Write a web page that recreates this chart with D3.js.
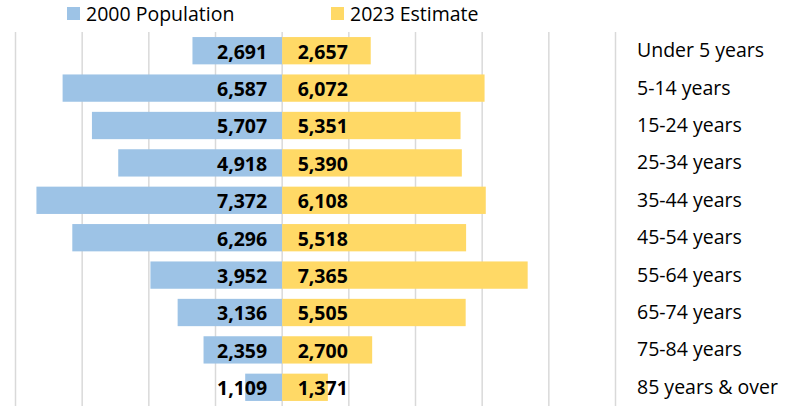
<!DOCTYPE html>
<html>
<head>
<meta charset="utf-8">
<script src="https://cdn.jsdelivr.net/npm/d3@7"></script>
<style>
  body { margin: 0; background: #fff; }
  svg { display: block; font-family: "Open Sans", sans-serif; }
</style>
</head>
<body>
<div id="chart"></div>
<script>
// data
const ageGroups = ["Under 5 years", "5-14 years", "15-24 years", "25-34 years", "35-44 years",
  "45-54 years", "55-64 years", "65-74 years", "75-84 years", "85 years & over"];
const pop2000 = [2691, 6587, 5707, 4918, 7372, 6296, 3952, 3136, 2359, 1109];
const est2023 = [2657, 6072, 5351, 5390, 6108, 5518, 7365, 5505, 2700, 1371];
const seriesNames = ["2000 Population", "2023 Estimate"];
const tickValues = [-8000, -6000, -4000, -2000, 0, 2000, 4000, 6000, 8000, 10000];

const width = 795;
const height = 406;
const colors = ["#9dc3e6", "#ffd966"];

const svg = d3.select("#chart").append("svg").attr("width", width).attr("height", height);

const x = d3.scaleLinear().domain([-8000, 10000]).range([15.5, 615.5]);
const y = d3.scaleBand().domain(ageGroups).range([32, 406]).paddingInner(0.27).paddingOuter(0.135);

// vertical gridlines
svg.append("g").selectAll("line")
  .data(tickValues)
  .join("line")
  .attr("x1", d => x(d)).attr("x2", d => x(d))
  .attr("y1", 32).attr("y2", height)
  .attr("stroke", "#d9d9d9")
  .attr("stroke-width", 1.5);

const rows = ageGroups.map((g, i) => ({ group: g, a: pop2000[i], b: est2023[i] }));

// 2000 bars go left
svg.append("g").selectAll("rect")
  .data(rows)
  .join("rect")
  .attr("x", d => x(-d.a))
  .attr("y", d => y(d.group))
  .attr("width", d => x(0) - x(-d.a))
  .attr("height", y.bandwidth())
  .attr("fill", colors[0]);

// 2023 bars go right
svg.append("g").selectAll("rect")
  .data(rows)
  .join("rect")
  .attr("x", x(0))
  .attr("y", d => y(d.group))
  .attr("width", d => x(d.b) - x(0))
  .attr("height", y.bandwidth())
  .attr("fill", colors[1]);

const fmt = d3.format(",");

// value labels, sitting at the centre line
const labels = svg.append("g")
  .attr("font-size", 19.5)
  .attr("font-weight", "bold")
  .attr("fill", "#000");
labels.selectAll("text.left")
  .data(rows)
  .join("text")
  .attr("class", "left")
  .attr("x", x(0) - 15)
  .attr("y", d => y(d.group) + y.bandwidth() / 2)
  .attr("dy", "0.41em")
  .attr("text-anchor", "end")
  .text(d => fmt(d.a));
labels.selectAll("text.right")
  .data(rows)
  .join("text")
  .attr("class", "right")
  .attr("x", x(0) + 15.5)
  .attr("y", d => y(d.group) + y.bandwidth() / 2)
  .attr("dy", "0.41em")
  .text(d => fmt(d.b));

// category names on the right
svg.append("g").selectAll("text")
  .data(ageGroups)
  .join("text")
  .attr("x", 637)
  .attr("y", d => y(d) + y.bandwidth() / 2)
  .attr("dy", "0.33em")
  .attr("font-size", 19.5)
  .attr("fill", "#000")
  .text(d => d);

// legend
const legendX = [67, 331];
const legend = svg.append("g").selectAll("g")
  .data(seriesNames)
  .join("g")
  .attr("transform", (d, i) => `translate(${legendX[i]},0)`);
legend.append("rect")
  .attr("x", 0).attr("y", 7)
  .attr("width", 13).attr("height", 13)
  .attr("fill", (d, i) => colors[i]);
legend.append("text")
  .attr("x", 19).attr("y", 20.5)
  .attr("font-size", 19.5)
  .attr("fill", "#000")
  .text(d => d);
</script>
</body>
</html>
